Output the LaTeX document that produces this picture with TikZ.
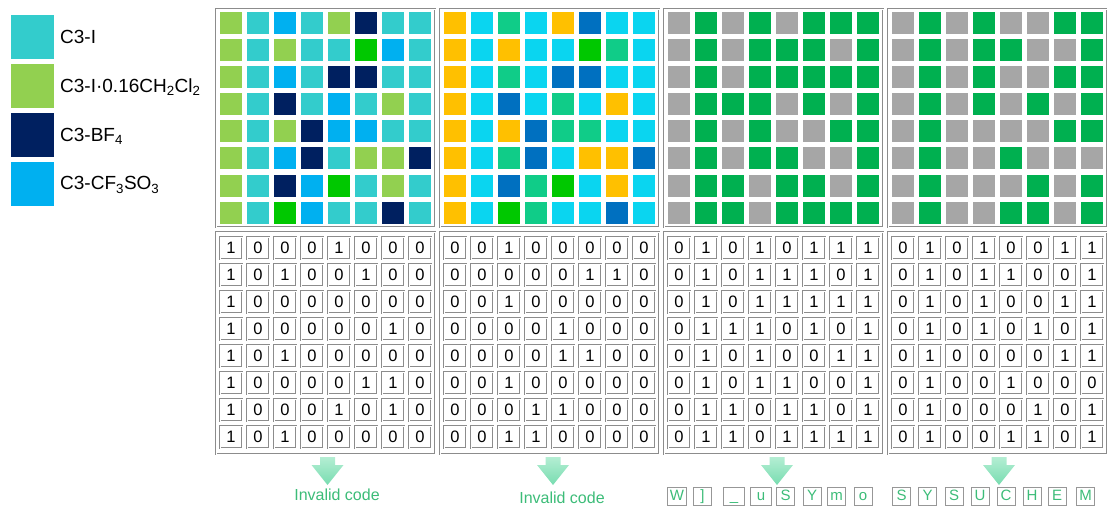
\documentclass[tikz,border=0pt]{standalone}
\usepackage{fontspec}
\setmainfont{Liberation Sans}
\definecolor{cT}{HTML}{33CCCC}
\definecolor{cL}{HTML}{92D050}
\definecolor{cN}{HTML}{002060}
\definecolor{cS}{HTML}{00B0F0}
\definecolor{cG}{HTML}{00C800}
\definecolor{cO}{HTML}{FFC000}
\definecolor{cC}{HTML}{0AD5F0}
\definecolor{cE}{HTML}{10CC88}
\definecolor{cB}{HTML}{0070C0}
\definecolor{c0}{HTML}{A6A6A6}
\definecolor{c1}{HTML}{00B050}
\definecolor{framegray}{HTML}{8C8C8C}
\definecolor{mintA}{HTML}{B4EED3}
\definecolor{mintB}{HTML}{78DCB0}
\definecolor{codegreen}{HTML}{3CBC78}
\tikzset{
  panelbox/.style={draw=framegray, line width=0.6pt, double=white, double distance=0.9pt},
  bitcell/.style={draw=framegray, line width=0.6pt, double=white, double distance=0.9pt,
    minimum width=22pt, minimum height=22pt, inner sep=0pt, font=\fontsize{16.5}{16.5}\selectfont},
  letterbox/.style={draw=framegray!90, line width=0.9pt,
    minimum width=18pt, minimum height=18pt, inner xsep=2.5pt, inner ysep=0pt,
    text height=11pt, text depth=2.5pt,
    text=codegreen, font=\fontsize{15}{15}\selectfont},
  legendsq/.style={minimum width=43pt, minimum height=44pt, inner sep=0pt},
  legendtxt/.style={anchor=west, inner sep=0pt, font=\fontsize{19}{19}\selectfont},
  blockarrow/.style={top color=mintA, bottom color=mintB, draw=none},
  codetxt/.style={text=codegreen, inner sep=0pt, font=\fontsize{16}{16}\selectfont}
}
\begin{document}
\begin{tikzpicture}[x=1pt, y=-1pt]
\useasboundingbox (0,0) rectangle (1107,513);

% legend
\node[legendsq, fill=cT] (sqT) at (32.5,37) {};
\node[legendsq, fill=cL] (sqL) at (32.5,86) {};
\node[legendsq, fill=cN] (sqN) at (32.5,135) {};
\node[legendsq, fill=cS] (sqS) at (32.5,184) {};
\node[legendtxt] (lT) at (60,37) {C3-I};
\node[legendtxt] (lL) at (60,87) {C3-I·0.16CH\textsubscript{2}Cl\textsubscript{2}};
\node[legendtxt] (lN) at (60,136) {C3-BF\textsubscript{4}};
\node[legendtxt] (lS) at (60,185) {C3-CF\textsubscript{3}SO\textsubscript{3}};

% panel frames
\foreach \p in {0,1,2,3}{
  \pgfmathsetmacro{\cs}{220+224*\p}
  \draw[panelbox] ({\cs-4},9) rectangle ({\cs+215},227);
  \draw[panelbox] ({\cs-4},232) rectangle ({\cs+215},454);
}

% colour grid 1
\foreach \row [count=\r from 0] in {
  {L,T,S,T,L,N,T,T},{L,T,L,T,T,G,S,T},{L,T,S,T,N,N,T,T},{L,T,N,T,S,T,L,T},
  {L,T,L,N,S,S,T,T},{L,T,S,N,T,L,L,N},{L,T,N,S,G,T,L,T},{L,T,G,S,T,T,N,T}}{
  \foreach \c [count=\k from 0] in \row {
    \fill[c\c] ({220+27*\k},{12+27.1*\r}) rectangle ++(22,22);
  }
}
% colour grid 2
\foreach \row [count=\r from 0] in {
  {O,C,E,C,O,B,C,C},{O,C,O,C,C,G,E,C},{O,C,E,C,B,B,C,C},{O,C,B,C,E,C,O,C},
  {O,C,O,B,E,E,C,C},{O,C,E,B,C,O,O,B},{O,C,B,E,G,C,O,C},{O,C,G,E,C,C,B,C}}{
  \foreach \c [count=\k from 0] in \row {
    \fill[c\c] ({444+27*\k},{12+27.1*\r}) rectangle ++(22,22);
  }
}

% binary grids
\foreach \row [count=\r from 0] in {
  {1,0,0,0,1,0,0,0},{1,0,1,0,0,1,0,0},{1,0,0,0,0,0,0,0},{1,0,0,0,0,0,1,0},
  {1,0,1,0,0,0,0,0},{1,0,0,0,0,1,1,0},{1,0,0,0,1,0,1,0},{1,0,1,0,0,0,0,0}}{
  \foreach \b [count=\k from 0] in \row {
    \node[bitcell] (a-\r-\k) at ({220+11+27*\k},{248+27*\r}) {\b};
  }
}
\foreach \row [count=\r from 0] in {
  {0,0,1,0,0,0,0,0},{0,0,0,0,0,1,1,0},{0,0,1,0,0,0,0,0},{0,0,0,0,1,0,0,0},
  {0,0,0,0,1,1,0,0},{0,0,1,0,0,0,0,0},{0,0,0,1,1,0,0,0},{0,0,1,1,0,0,0,0}}{
  \foreach \b [count=\k from 0] in \row {
    \node[bitcell] (b-\r-\k) at ({444+11+27*\k},{248+27*\r}) {\b};
  }
}
\foreach \row [count=\r from 0] in {
  {0,1,0,1,0,1,1,1},{0,1,0,1,1,1,0,1},{0,1,0,1,1,1,1,1},{0,1,1,1,0,1,0,1},
  {0,1,0,1,0,0,1,1},{0,1,0,1,1,0,0,1},{0,1,1,0,1,1,0,1},{0,1,1,0,1,1,1,1}}{
  \foreach \b [count=\k from 0] in \row {
    \fill[c\b] ({668+27*\k},{12+27.1*\r}) rectangle ++(22,22);
    \node[bitcell] (c-\r-\k) at ({668+11+27*\k},{248+27*\r}) {\b};
  }
}
\foreach \row [count=\r from 0] in {
  {0,1,0,1,0,0,1,1},{0,1,0,1,1,0,0,1},{0,1,0,1,0,0,1,1},{0,1,0,1,0,1,0,1},
  {0,1,0,0,0,0,1,1},{0,1,0,0,1,0,0,0},{0,1,0,0,0,1,0,1},{0,1,0,0,1,1,0,1}}{
  \foreach \b [count=\k from 0] in \row {
    \fill[c\b] ({892+27*\k},{12+27.1*\r}) rectangle ++(22,22);
    \node[bitcell] (d-\r-\k) at ({892+11+27*\k},{248+27*\r}) {\b};
  }
}

% block arrows
\foreach \ax in {327.5,553,777,999}{
  \path[blockarrow] ({\ax-7.5},457) -- ({\ax+7.5},457) -- ({\ax+7.5},465) -- ({\ax+16},465)
    -- (\ax,485) -- ({\ax-16},465) -- ({\ax-7.5},465) -- cycle;
}

% results
\node[codetxt] (inv1) at (337,495) {Invalid code};
\node[codetxt] (inv2) at (562,498) {Invalid code};

\node[letterbox] (w1) at (677,496.5) {W};
\node[letterbox] (w2) at (702.5,496.5) {]};
\node[letterbox, minimum width=21pt] (w3) at (734,496.5) {\_};
\node[letterbox, minimum width=21pt] (w4) at (761,496.5) {u};
\node[letterbox] (w5) at (785.5,496.5) {S};
\node[letterbox] (w6) at (812,496.5) {Y};
\node[letterbox] (w7) at (836.5,496.5) {m};
\node[letterbox] (w8) at (863,496.5) {o};

\node[letterbox] (s1) at (901.5,496.5) {S};
\node[letterbox] (s2) at (927.5,496.5) {Y};
\node[letterbox] (s3) at (954,496.5) {S};
\node[letterbox] (s4) at (980,496.5) {U};
\node[letterbox] (s5) at (1006,496.5) {C};
\node[letterbox] (s6) at (1032,496.5) {H};
\node[letterbox] (s7) at (1057,496.5) {E};
\node[letterbox] (s8) at (1085.5,496.5) {M};
\end{tikzpicture}
\end{document}
